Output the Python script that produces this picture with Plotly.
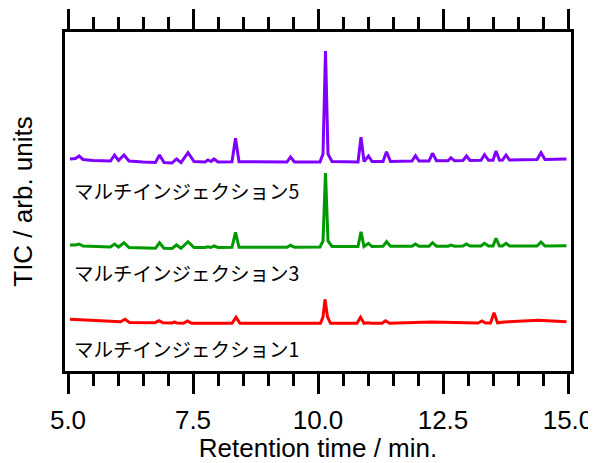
import plotly.graph_objects as go

# Retention time (min) and TIC intensity (arb. units, with vertical offsets)
t_inj5 = [5.04, 5.15, 5.22, 5.30, 5.50, 5.85, 5.93, 6.01, 6.12, 6.22, 6.50, 6.75, 6.83, 6.92,
          7.08, 7.17, 7.26, 7.40, 7.52, 7.74, 7.80, 7.86, 7.92, 8.00, 8.28, 8.35, 8.42, 8.80,
          9.38, 9.45, 9.53, 10.04, 10.10, 10.15, 10.20, 10.28, 10.50, 10.80, 10.86, 10.92,
          11.01, 11.08, 11.30, 11.37, 11.45, 11.88, 11.95, 12.02, 12.22, 12.29, 12.37, 12.60,
          12.66, 12.73, 12.90, 12.97, 13.04, 13.26, 13.33, 13.41, 13.50, 13.56, 13.63, 13.69,
          13.76, 13.83, 14.38, 14.46, 14.54, 14.97]
y_inj5 = [213, 213.5, 216, 212.5, 211.5, 211, 217, 211.5, 217, 211, 210, 209.5, 217, 209.5,
          209, 213, 209.5, 219.3, 210.5, 210, 212, 210.5, 213, 210, 210.2, 233.7, 210.2, 210,
          210, 215, 210, 210, 218, 321, 218, 210.5, 210, 210, 234.7, 210.5,
          216, 210.5, 210.5, 220.3, 210.5, 211, 216.3, 211, 211, 218.7, 211.2, 211.2,
          214.3, 211.2, 211.5, 216, 211.5, 211.7, 217.3, 211.7, 211.7, 221, 211.8, 212,
          217, 212, 212.5, 219.3, 212.5, 213]

t_inj3 = [5.04, 5.15, 5.22, 5.30, 5.85, 5.93, 6.01, 6.12, 6.22, 6.50, 6.75, 6.83, 6.92,
          7.08, 7.17, 7.26, 7.40, 7.52, 7.74, 7.80, 7.86, 7.92, 8.00, 8.28, 8.35, 8.42,
          9.38, 9.45, 9.53, 10.04, 10.10, 10.15, 10.20, 10.28, 10.80, 10.86, 10.92,
          11.01, 11.08, 11.30, 11.37, 11.45, 11.88, 11.95, 12.02, 12.22, 12.29, 12.37, 12.60,
          12.66, 12.73, 12.90, 12.97, 13.04, 13.26, 13.33, 13.41, 13.50, 13.56, 13.63, 13.69,
          13.76, 13.83, 14.38, 14.46, 14.54, 14.97]
y_inj3 = [127, 127, 128, 126, 125, 128, 125, 129.3, 124.5, 124, 123.7, 129.3, 123.7,
          123.5, 127, 123.7, 130.3, 124.5, 124.5, 125.3, 124.5, 126, 124.5, 124.7, 139.7, 124.7,
          124.7, 126.7, 124.7, 125, 131, 199, 131, 125.5, 125.5, 140.3, 125.5,
          128.7, 125.5, 125.7, 130.3, 125.7, 125.7, 128, 125.7, 125.8, 129.3, 125.8, 125.8,
          127, 125.8, 125.9, 128, 125.9, 126, 128.7, 126, 126, 133.7, 126, 126,
          128.7, 126, 126, 130, 126, 126.3]

t_inj1 = [5.04, 5.50, 6.05, 6.14, 6.23, 6.74, 6.82, 6.90, 7.08, 7.13, 7.18, 7.31, 7.39, 7.47,
          8.28, 8.36, 8.44, 10.05, 10.10, 10.14, 10.19, 10.25, 10.78, 10.85, 10.92, 11.00,
          11.07, 11.28, 11.35, 11.43, 11.93, 12.27, 13.20, 13.28, 13.35, 13.45, 13.52, 13.59,
          13.73, 14.41, 14.97]
y_inj1 = [52.7, 51.5, 50.3, 52.7, 49.5, 49.3, 51.3, 49.2, 49, 50, 49, 48.8, 51, 48.7,
          48.7, 54.7, 48.7, 48.7, 55, 72.7, 55, 48.7, 48.7, 54.7, 48.7, 49.3,
          48.7, 48.8, 51.3, 48.7, 49.3, 50, 49, 51, 49, 49, 59.3, 49.2,
          50, 51.7, 50.3]

series_names = ["マルチインジェクション5", "マルチインジェクション3", "マルチインジェクション1"]
series_colors = ["#7f00ff", "#009900", "#ff0000"]
label_y = [182, 100, 24]

tick_vals = [5.0, 7.5, 10.0, 12.5, 15.0]
tick_text = ["5.0", "7.5", "10.0", "12.5", "15.0"]
minor_vals = [5.5, 6.0, 6.5, 7.0, 8.0, 8.5, 9.0, 9.5, 10.5, 11.0, 11.5, 12.0, 13.0, 13.5, 14.0, 14.5]

fig = go.Figure()
for name, tx, ty, col in zip(series_names, [t_inj5, t_inj3, t_inj1], [y_inj5, y_inj3, y_inj1], series_colors):
    fig.add_trace(go.Scatter(x=tx, y=ty, mode="lines", name=name,
                             line=dict(color=col, width=3), showlegend=False))

for name, ly in zip(series_names, label_y):
    fig.add_annotation(x=5.08, y=ly, text=name, showarrow=False, xanchor="left", yanchor="middle",
                       font=dict(family="Noto Sans CJK JP", size=19.5, color="black"))

# the page body has an 8px margin, so the figure is sized to fit the 596x463 window
fig.update_layout(
    width=588, height=455,
    margin=dict(l=57, r=25, t=24, b=92),
    paper_bgcolor="white", plot_bgcolor="white",
    font=dict(family="Liberation Sans, Arial", size=26, color="black"),
    xaxis=dict(range=[4.94, 15.06], tickmode="array", tickvals=tick_vals, ticktext=tick_text,
               ticks="outside", ticklen=20, tickwidth=2.5, tickcolor="black",
               showline=True, linewidth=2.5, linecolor="black", mirror="ticks",
               showgrid=False, zeroline=False, automargin=False, ticklabelstandoff=4,
               minor=dict(tickmode="array", tickvals=minor_vals,
                          ticks="outside", ticklen=12, tickwidth=2.5, tickcolor="black", showgrid=False),
               title=dict(text="Retention time / min.", standoff=2, font=dict(size=26)),
               tickfont=dict(size=26)),
    yaxis=dict(range=[1, 340], showticklabels=False, ticks="",
               showline=True, linewidth=2.5, linecolor="black", mirror=True,
               showgrid=False, zeroline=False, automargin=False,
               title=dict(text="TIC / arb. units", standoff=30, font=dict(size=26))),
)

fig.write_html("out.html")
